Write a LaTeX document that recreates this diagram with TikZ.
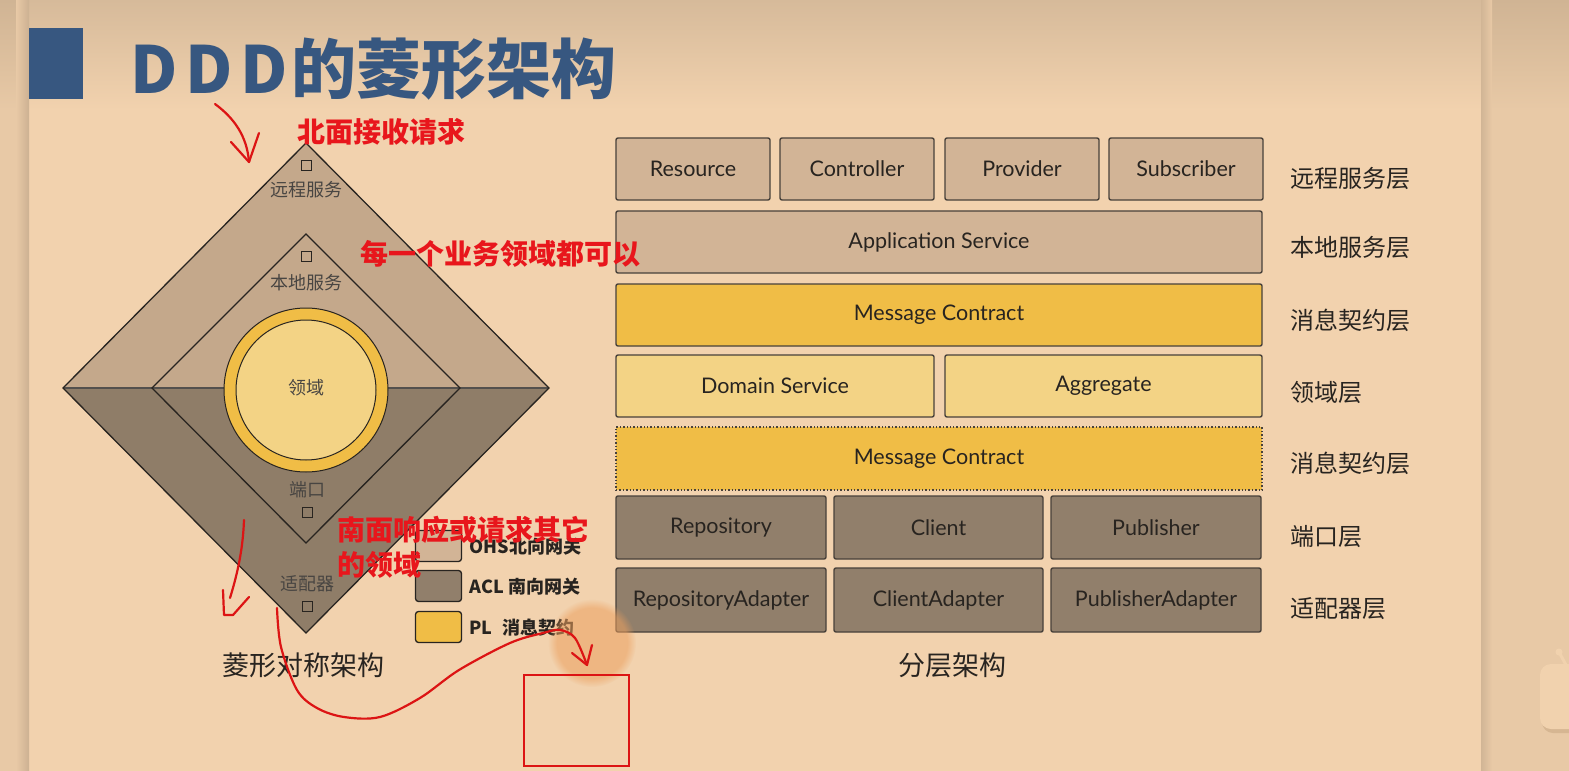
\documentclass[tikz,border=0pt]{standalone}
\usepackage{fontspec}
\usetikzlibrary{fadings}
\newfontfamily\cjk{Noto Sans CJK SC}
\newfontfamily\lat{Lato}
\definecolor{slide}{RGB}{242,210,174}
\definecolor{slidetop}{RGB}{214,186,154}
\definecolor{strip}{RGB}{232,201,166}
\definecolor{striptop}{RGB}{208,180,148}
\definecolor{titleblue}{RGB}{55,87,128}
\definecolor{tanlight}{RGB}{210,180,150}
\definecolor{tandark}{RGB}{145,127,107}
\definecolor{gold}{RGB}{240,189,70}
\definecolor{goldlight}{RGB}{243,211,133}
\definecolor{edge}{RGB}{72,65,58}
\definecolor{ink}{RGB}{40,36,32}
\definecolor{diaup}{RGB}{196,168,139}
\definecolor{diadown}{RGB}{143,125,104}
\definecolor{note}{RGB}{232,22,28}
\definecolor{pen}{RGB}{220,20,20}
\definecolor{glow}{RGB}{236,160,95}
\definecolor{iconfill}{RGB}{241,210,174}
\definecolor{iconshade}{RGB}{214,182,146}

\tikzset{
  layerbox/.style={draw=edge, line width=1.4pt, rounded corners=2pt, inner sep=0pt,
    text=ink, font=\lat\fontsize{21.5}{24}\selectfont},
  remotebox/.style={layerbox, fill=tanlight},
  portbox/.style={layerbox, fill=tandark},
  contractbox/.style={layerbox, fill=gold},
  domainbox/.style={layerbox, fill=goldlight},
  layername/.style={anchor=west, text=ink, font=\cjk\fontsize{24}{27}\selectfont},
  dialabel/.style={text=ink!85, font=\cjk\fontsize{18}{21}\selectfont},
  portmark/.style={draw=ink, line width=1pt, minimum size=10pt, inner sep=0pt},
  dline/.style={draw=ink, line width=1.3pt, line join=miter},
  swatch/.style={draw=ink, line width=1.3pt, rounded corners=3pt,
    minimum width=46pt, minimum height=31pt, inner sep=0pt},
  swatchtext/.style={anchor=west, text=ink, font=\cjk\bfseries\fontsize{18}{21}\selectfont},
  caption/.style={text=ink, font=\cjk\fontsize{27}{30}\selectfont},
  remark/.style={anchor=west, text=note, font=\cjk\bfseries\fontsize{28}{32}\selectfont},
  scribble/.style={draw=pen, line width=2.2pt, line cap=round, line join=round},
}

\begin{document}
\begin{tikzpicture}[x=1pt, y=-1pt]
\useasboundingbox (0,0) rectangle (1569,771);

% page background, side strips and top gradient
\fill[strip] (0,0) rectangle (1569,771);
\shade[top color=striptop, bottom color=strip] (0,0) rectangle (1569,110);
\fill[slide] (29,0) rectangle (1481,771);
\shade[top color=slidetop, bottom color=slide] (29,0) rectangle (1481,110);
\shade[left color=strip, right color=strip!88!black] (16,0) rectangle (29,771);
\shade[left color=strip!90!black, right color=strip] (1481,0) rectangle (1492,771);

% title
\fill[titleblue] (29,28) rectangle (83,99);
\node[anchor=west, inner sep=0pt, text=titleblue,
      font=\cjk\bfseries\fontsize{65}{72}\selectfont] (title) at (130,69)
  {D\kern8pt D\kern8pt D\kern3pt 的菱形架构};

% ---------- diamond ----------
\coordinate (oT) at (306,143);
\coordinate (oL) at (63,388);
\coordinate (oR) at (549,388);
\coordinate (oB) at (306,633);
\coordinate (iT) at (306,234);
\coordinate (iL) at (152,388);
\coordinate (iR) at (460,388);
\coordinate (iB) at (306,543);
\fill[diaup] (oL) -- (oT) -- (oR) -- cycle;
\fill[diadown] (oL) -- (oB) -- (oR) -- cycle;
\draw[draw=ink!80, line width=2pt] (oL) -- (oR);
\draw[dline] (oT) -- (oR) -- (oB) -- (oL) -- cycle;
\draw[dline] (iT) -- (iR) -- (iB) -- (iL) -- cycle;

\node[circle, draw=ink, line width=1pt, fill=gold, minimum size=164pt, inner sep=0pt] (ring) at (306,390) {};
\node[circle, draw=ink, line width=1pt, fill=goldlight, minimum size=140pt, inner sep=0pt] (core) at (306,390) {};
\node[dialabel] (coreText) at (306,388) {领域};

\node[portmark] (remoteMark) at (306,165) {};
\node[dialabel] (remoteText) at (306,190) {远程服务};
\node[portmark] (localMark) at (306,256) {};
\node[dialabel] (localText) at (306,283) {本地服务};
\node[dialabel] (portText) at (307,490) {端口};
\node[portmark] (portMark) at (307,512) {};
\node[dialabel] (adapterText) at (307,584) {适配器};
\node[portmark] (adapterMark) at (307,606) {};

\node[caption] (diaCaption) at (303,665) {菱形对称架构};

% legend
\node[swatch, fill=tanlight] (ohs) at (438.5,546) {};
\node[swatch, fill=tandark] (acl) at (438.5,586) {};
\node[swatch, fill=gold] (pl) at (438.5,627) {};
\node[swatchtext] (ohsText) at (466,547) {OHS北向网关};
\node[swatchtext] (aclText) at (466,587) {ACL 南向网关};
\node[swatchtext] (plText) at (466,628) {PL\hspace{10pt}消息契约};

% ---------- layered stack ----------
\node[remotebox, minimum width=154pt, minimum height=62pt] (res)  at (693,169) {Resource};
\node[remotebox, minimum width=154pt, minimum height=62pt] (ctl)  at (857,169) {Controller};
\node[remotebox, minimum width=154pt, minimum height=62pt] (prov) at (1022,169) {Provider};
\node[remotebox, minimum width=154pt, minimum height=62pt] (sub)  at (1186,169) {Subscriber};
\node[remotebox, minimum width=646pt, minimum height=62pt] (app)  at (939,242) {Application Service};
\node[contractbox, minimum width=646pt, minimum height=62pt] (mcA) at (939,315) {Message Contract};
\node[domainbox, minimum width=318pt, minimum height=62pt] (dsvc) at (775,386) {Domain Service};
\node[domainbox, minimum width=317pt, minimum height=62pt] (agg)  at (1103.5,386) {Aggregate};
\node[contractbox, dotted, minimum width=646pt, minimum height=63pt, rounded corners=0pt] (mcB) at (939,458.5) {Message Contract};
\node[portbox, minimum width=210pt, minimum height=63pt] (repo) at (721,527.5) {Repository};
\node[portbox, minimum width=209pt, minimum height=63pt] (cli)  at (938.5,527.5) {Client};
\node[portbox, minimum width=210pt, minimum height=63pt] (pub)  at (1156,527.5) {Publisher};
\node[portbox, minimum width=210pt, minimum height=64pt] (repoA) at (721,600) {RepositoryAdapter};
\node[portbox, minimum width=209pt, minimum height=64pt] (cliA)  at (938.5,600) {ClientAdapter};
\node[portbox, minimum width=210pt, minimum height=64pt] (pubA)  at (1156,600) {PublisherAdapter};

\node[layername] (nRemote)   at (1287,178) {远程服务层};
\node[layername] (nLocal)    at (1287,247) {本地服务层};
\node[layername] (nMsgA)     at (1287,320) {消息契约层};
\node[layername] (nDomain)   at (1287,392) {领域层};
\node[layername] (nMsgB)     at (1287,463) {消息契约层};
\node[layername] (nPort)     at (1287,537) {端口层};
\node[layername] (nAdapter)  at (1287,609) {适配器层};

\node[caption] (stackCaption) at (952,665) {分层架构};

% small app icon at the lower right edge
\fill[iconshade, rounded corners=11pt] (1542,667) rectangle (1600,733);
\fill[iconfill, rounded corners=11pt] (1540,664) rectangle (1600,729);
\draw[iconfill, line width=3pt, line cap=round] (1559,652) -- (1566,665);
\fill[iconfill] (1559,652) circle[radius=3.5pt];

% ---------- hand-written notes ----------
\node[remark] (northNote) at (294,132) {北面接收请求};
\node[remark] (everyNote) at (357,254) {每一个业务领域都可以};
\node[remark] (southNote) at (334,530) {南面响应或请求其它};
\node[remark] (southNote2) at (334,565) {的领域};

% pointer highlight
\fill[glow, opacity=0.55, path fading=circle with fuzzy edge 20 percent] (592,643) circle[radius=44pt];

% north arrow
\coordinate (nA) at (215,104);
\coordinate (nB) at (249,162);
\draw[scribble] (nA) .. controls (234,118) and (247,136) .. (nB);
\draw[scribble] (231,142) -- (nB) -- (259,133);

% south arrow
\coordinate (sA) at (244,520);
\coordinate (sB) at (230,598);
\draw[scribble] (sA) .. controls (243,548) and (238,572) .. (sB);
\draw[scribble] (223,590) -- (224,615) -- (233,615) -- (249,597);

% long stroke toward the box
\coordinate (lA) at (277,608);
\coordinate (lB) at (587,665);
\draw[scribble] plot[smooth, tension=0.55] coordinates {(lA) (281,647) (297,690) (317,708) (344,717) (380,717) (420,698) (459,670) (510,643) (543,633) (560,630) (575,638) (lB)};
\draw[scribble] (572,653) -- (lB) -- (592,645);

% target frame
\draw[draw=pen, line width=2.5pt] (524,675) rectangle (629,766);

\end{tikzpicture}
\end{document}
